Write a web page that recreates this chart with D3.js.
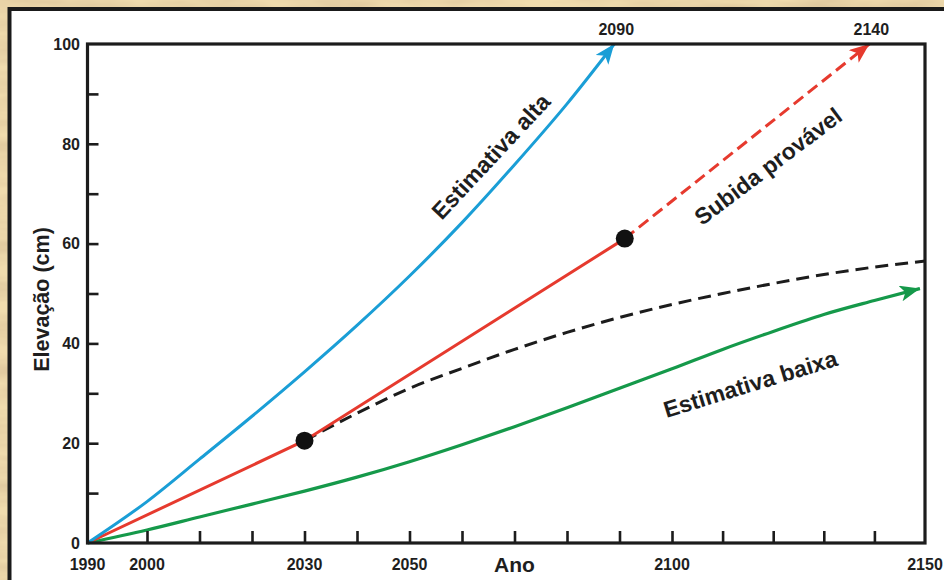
<!DOCTYPE html>
<html><head><meta charset="utf-8">
<script src="https://cdn.jsdelivr.net/npm/d3@7"></script>
<style>html,body{margin:0;padding:0;background:#ecd6a8;overflow:hidden}</style>
</head><body><svg id="c" width="944" height="580"></svg>
<script>
// ---------- data ----------
const xTickYears = d3.range(2000, 2150, 10);
const xLabelYears = [1990, 2000, 2030, 2050, 2100, 2150];
const xTitle = "Ano";
const xTitleYear = 2070;
const yTickValues = d3.range(10, 100, 10);
const yLabelValues = [0, 20, 40, 60, 80, 100];
const yTitle = "Elevação (cm)";

const altaYears  = [1990, 2000, 2010, 2020, 2030, 2040, 2050, 2060, 2070, 2080, 2089];
const altaValues = [0, 8.3, 16.8, 25.4, 34.3, 43.6, 53.5, 64.2, 75.8, 88, 100];

const provavelYears  = [1990, 2030, 2091];
const provavelValues = [0, 20.5, 61];
const provavelDashYears  = [2091, 2139];
const provavelDashValues = [61, 100];

const estavelYears  = [2030, 2040, 2050, 2060, 2070, 2080, 2090, 2100, 2110, 2120, 2130, 2140, 2150];
const estavelValues = [20.5, 26, 31, 35, 38.8, 42.2, 45.2, 47.8, 50, 52, 53.8, 55.3, 56.5];

const baixaYears  = [1990, 2000, 2010, 2020, 2030, 2040, 2050, 2060, 2070, 2080, 2090, 2100, 2110, 2120, 2130, 2140, 2149];
const baixaValues = [0, 2.6, 5.2, 7.8, 10.4, 13.2, 16.3, 19.7, 23.3, 27.1, 31.0, 34.9, 38.8, 42.4, 45.8, 48.6, 51.0];

const pointYears  = [2030, 2091];
const pointValues = [20.5, 61];

const endLabels = ["2090", "2140"];
const seriesLabels = ["Estimativa alta", "Subida provável", "Estimativa baixa"];

// ---------- drawing ----------
const W = 944, H = 580;
const svg = d3.select("#c");
const defs = svg.append("defs");

const f = defs.append("filter").attr("id", "paper").attr("x", 0).attr("y", 0).attr("width", 1).attr("height", 1);
f.append("feTurbulence").attr("type", "fractalNoise").attr("baseFrequency", "0.01 0.05").attr("numOctaves", 4).attr("seed", 7).attr("result", "n");
f.append("feColorMatrix").attr("in", "n").attr("type", "matrix")
  .attr("values", "0 0 0 0 0.70  0 0 0 0 0.54  0 0 0 0 0.32  1.6 0 0 0 -0.55");

svg.append("rect").attr("width", W).attr("height", H).attr("fill", "#f0dcae");
svg.append("rect").attr("width", W).attr("height", H).attr("filter", "url(#paper)");

// white panel
svg.append("rect").attr("x", 9.5).attr("y", 9).attr("width", W + 20).attr("height", H + 20)
  .attr("fill", "#fff").attr("stroke", "#1a1a1a").attr("stroke-width", 4);

const x = d3.scaleLinear().domain([1990, 2000, 2100, 2150]).range([87.5, 147, 672, 925]);
const y = d3.scaleLinear().domain([0, 100]).range([543, 44]);

function marker(id, color) {
  defs.append("marker").attr("id", id).attr("markerUnits", "userSpaceOnUse")
    .attr("markerWidth", 24).attr("markerHeight", 20).attr("refX", 20).attr("refY", 8)
    .attr("orient", "auto")
    .append("path").attr("d", "M0,0 L20,8 L0,16 L5,8 Z").attr("fill", color);
}
const cBlue = "#1a9ed6", cRed = "#e63a2e", cGreen = "#15994a", cBlack = "#1c1c1c";
marker("mBlue", cBlue); marker("mRed", cRed); marker("mGreen", cGreen);

const line = d3.line().x(d => x(d[0])).y(d => y(d[1])).curve(d3.curveMonotoneX);
const lineLin = d3.line().x(d => x(d[0])).y(d => y(d[1]));
const zip = (a, b) => a.map((v, i) => [v, b[i]]);

const g = svg.append("g");
g.append("path").attr("d", line(zip(baixaYears, baixaValues))).attr("fill", "none")
  .attr("stroke", cGreen).attr("stroke-width", 3.2).attr("marker-end", "url(#mGreen)");
g.append("path").attr("d", line(zip(estavelYears, estavelValues))).attr("fill", "none")
  .attr("stroke", cBlack).attr("stroke-width", 3).attr("stroke-dasharray", "13,7");
g.append("path").attr("d", lineLin(zip(provavelYears, provavelValues))).attr("fill", "none")
  .attr("stroke", cRed).attr("stroke-width", 3);
g.append("path").attr("d", lineLin(zip(provavelDashYears, provavelDashValues))).attr("fill", "none")
  .attr("stroke", cRed).attr("stroke-width", 3).attr("stroke-dasharray", "12,6").attr("marker-end", "url(#mRed)");
g.append("path").attr("d", line(zip(altaYears, altaValues))).attr("fill", "none")
  .attr("stroke", cBlue).attr("stroke-width", 3).attr("marker-end", "url(#mBlue)");

g.selectAll("circle.pt").data(zip(pointYears, pointValues)).join("circle")
  .attr("class", "pt").attr("cx", d => x(d[0])).attr("cy", d => y(d[1])).attr("r", 9).attr("fill", "#111");

// frame
const frame = svg.append("g").attr("stroke", cBlack).attr("stroke-width", 3.2).attr("fill", "none");
frame.append("rect").attr("x", x(1990)).attr("y", y(100)).attr("width", x(2150) - x(1990)).attr("height", y(0) - y(100));

// axes via d3 axis generators (inner ticks)
const font = "'Liberation Sans', Arial, Helvetica, sans-serif";
const xAxis = d3.axisBottom(x).tickValues(xTickYears).tickSize(-12).tickFormat("");
svg.append("g").attr("transform", `translate(0,${y(0)})`).call(xAxis)
  .call(s => { s.select(".domain").remove(); s.selectAll("line").attr("stroke", cBlack).attr("stroke-width", 2.6); });
const yAxis = d3.axisLeft(y).tickValues(yTickValues).tickSize(-11).tickFormat("");
svg.append("g").attr("transform", `translate(${x(1990)},0)`).call(yAxis)
  .call(s => { s.select(".domain").remove(); s.selectAll("line").attr("stroke", cBlack).attr("stroke-width", 2.6); });

const txt = svg.append("g").attr("font-family", font).attr("font-weight", "bold").attr("fill", "#1e1e1e");
txt.selectAll("text.xl").data(xLabelYears).join("text").attr("class", "xl")
  .attr("x", d => x(d)).attr("y", 570).attr("text-anchor", "middle").attr("font-size", 16).text(d => d);
txt.append("text").attr("x", x(xTitleYear)).attr("y", 572).attr("text-anchor", "middle")
  .attr("font-size", 21).text(xTitle);
txt.selectAll("text.yl").data(yLabelValues).join("text").attr("class", "yl")
  .attr("x", 80).attr("y", d => y(d)).attr("dy", "0.36em").attr("text-anchor", "end").attr("font-size", 16).text(d => d);
txt.append("text").attr("transform", `translate(49,${(y(0) + y(100)) / 2 + 6}) rotate(-90)`)
  .attr("text-anchor", "middle").attr("font-size", 21.5).text(yTitle);

// end labels at arrow tips
const tips = [[altaYears[altaYears.length - 1]], [provavelDashYears[1]]];
txt.selectAll("text.el").data(endLabels).join("text").attr("class", "el")
  .attr("x", (d, i) => x(tips[i][0]) + 2).attr("y", 35).attr("text-anchor", "middle").attr("font-size", 16).text(d => d);

// series labels (anchored in data units)
const labelPos = [[2065.5, 77.5, -47], [2119, 75.5, -37], [2115.5, 31.9, -17]];
txt.selectAll("text.sl").data(seriesLabels).join("text").attr("class", "sl")
  .attr("transform", (d, i) => `translate(${x(labelPos[i][0])},${y(labelPos[i][1])}) rotate(${labelPos[i][2]})`)
  .attr("text-anchor", "middle").attr("dy", "0.35em").attr("font-size", 23).text(d => d);
</script></body></html>
